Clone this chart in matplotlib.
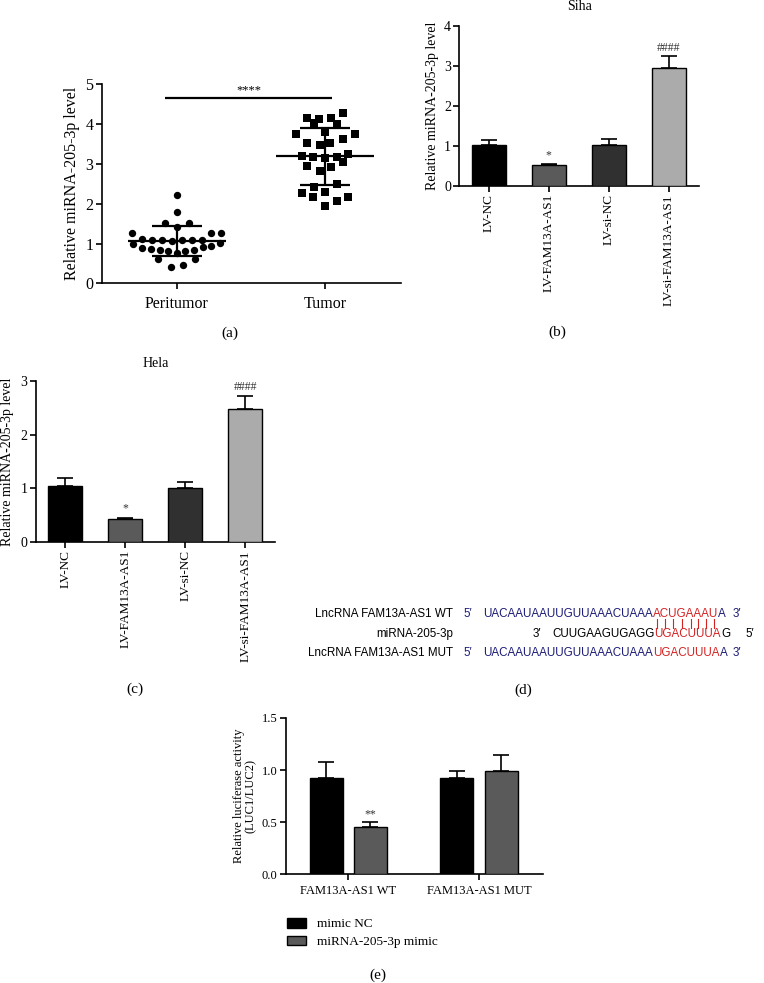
import matplotlib
matplotlib.use("Agg")
import matplotlib.pyplot as plt
from matplotlib.lines import Line2D
from matplotlib.patches import Patch
from matplotlib.font_manager import FontProperties
import numpy as np

plt.rcParams["font.family"] = ["Liberation Serif", "DejaVu Serif"]

W, H = 764, 983

# ── data ────────────────────────────────────────────────────────────────
scatter_groups = ["Peritumor", "Tumor"]
peri_vals = [2.22, 1.78, 1.51, 1.51, 1.41, 1.27, 1.27, 1.26, 1.12, 1.09,
             1.09, 1.07, 1.10, 1.09, 1.10, 0.99, 1.02, 0.88, 0.86, 0.84,
             0.80, 0.77, 0.82, 0.84, 0.90, 0.94, 0.61, 0.61, 0.42, 0.46]
peri_jitter = [0, 0, -0.079, 0.083, 0, -0.303, 0.299, 0.231, -0.236, -0.169,
               -0.101, -0.029, 0.034, 0.101, 0.169, -0.292, 0.292, -0.236, -0.175, -0.112,
               -0.056, 0, 0.056, 0.117, 0.175, 0.231, -0.124, 0.124, -0.038, 0.040]
tumor_vals = [4.27, 4.15, 4.12, 4.15, 4.02, 4.00, 3.81, 3.74, 3.74, 3.52,
              3.48, 3.53, 3.62, 3.21, 3.18, 3.14, 3.18, 3.25, 3.06, 2.95,
              2.91, 2.81, 2.43, 2.49, 2.26, 2.18, 2.30, 2.18, 2.08, 1.95]
tumor_jitter = [0.119, -0.119, -0.040, 0.038, -0.074, 0.079, 0, -0.198, 0.202, -0.119,
                -0.034, 0.034, 0.119, -0.157, -0.079, 0, 0.079, 0.157, 0.119, -0.119,
                0.038, -0.034, -0.074, 0.079, -0.157, -0.079, 0, 0.157, 0.079, 0]

lv_groups = ["LV-NC", "LV-FAM13A-AS1", "LV-si-NC", "LV-si-FAM13A-AS1"]
lv_marks = ["", "*", "", "####"]
siha_vals = [1.025, 0.51, 1.03, 2.94]
siha_err = [0.115, 0.03, 0.13, 0.29]
hela_vals = [1.04, 0.42, 1.01, 2.47]
hela_err = [0.15, 0.03, 0.10, 0.25]

luc_groups = ["FAM13A-AS1 WT", "FAM13A-AS1 MUT"]
luc_series = ["mimic NC", "miRNA-205-3p mimic"]
luc_nc = [0.92, 0.92]
luc_nc_err = [0.16, 0.067]
luc_mimic = [0.457, 0.99]
luc_mimic_err = [0.043, 0.157]
luc_marks = ["**", ""]

seq_labels = ["LncRNA FAM13A-AS1 WT", "miRNA-205-3p", "LncRNA FAM13A-AS1 MUT"]

BAR_COLOURS = ["#000000", "#5a5a5a", "#303030", "#ababab"]
NAVY = "#1c1c78"
RED = "#d42323"


def axes_px(left, top, right, bottom):
    return [left / W, 1 - bottom / H, (right - left) / W, (bottom - top) / H]


def style(ax, fs):
    for s in ("top", "right"):
        ax.spines[s].set_visible(False)
    for s in ("left", "bottom"):
        ax.spines[s].set_linewidth(1.2)
    ax.tick_params(direction="out", length=4, width=1.2, labelsize=fs, pad=2)


fig = plt.figure(figsize=(W / 100, H / 100), dpi=100)

# ── (a) scatter ─────────────────────────────────────────────────────────
ax = fig.add_axes(axes_px(101.7, 84.3, 400.7, 283.3))
for i, (vals, jit, mk, ms) in enumerate([(peri_vals, peri_jitter, "o", 5.3),
                                         (tumor_vals, tumor_jitter, "s", 6.0)]):
    v = np.array(vals)
    ax.plot(i + np.array(jit), v, mk, color="black", ms=ms, mew=0, zorder=3)
    m, sd = v.mean(), v.std(ddof=1)
    ax.hlines(m, i - 0.33, i + 0.33, color="black", lw=1.6, zorder=4)
    ax.hlines([m - sd, m + sd], i - 0.167, i + 0.167, color="black", lw=1.6, zorder=4)
    ax.vlines(i, m - sd, m + sd, color="black", lw=1.6, zorder=4)
ax.hlines(4.66, -0.08, 1.05, color="black", lw=1.6)
ax.text(0.485, 4.70, "****", ha="center", va="bottom", fontsize=9)
ax.set_xlim(-0.506, 1.51)
ax.set_ylim(0, 5)
ax.set_xticks([0, 1])
ax.set_xticklabels(scatter_groups)
ax.set_yticks(range(6))
style(ax, 11.5)
ax.tick_params(axis="x", pad=5)
ax.set_ylabel("Relative miRNA-205-3p level", fontsize=11.5)
ax.yaxis.set_label_coords(-0.074, 0.5)


# ── (b), (c) bar panels ────────────────────────────────────────────────
def lv_panel(rect, vals, errs, ymax, title, title_pad):
    ax = fig.add_axes(rect)
    x = np.arange(len(lv_groups))
    ax.bar(x, vals, 0.56, color=BAR_COLOURS, edgecolor="black", linewidth=1, zorder=3)
    ax.errorbar(x, vals, yerr=[np.zeros(len(vals)), errs], fmt="none", ecolor="black",
                elinewidth=1.2, capsize=6, capthick=1.2, zorder=2)
    for xi, v, e, t in zip(x, vals, errs, lv_marks):
        if t:
            ax.annotate(t, (xi, v + e), xytext=(0, 2), textcoords="offset points",
                        ha="center", va="bottom", fontsize=8.5, color="#333333")
    ax.set_xlim(-0.49, 3.5)
    ax.set_ylim(0, ymax)
    ax.set_yticks(range(ymax + 1))
    ax.set_xticks(x)
    ax.set_xticklabels(lv_groups, rotation=90, fontsize=9.5)
    style(ax, 10)
    ax.tick_params(axis="x", labelsize=9.5)
    ax.set_title(title, fontsize=10, pad=title_pad)
    ax.set_ylabel("Relative miRNA-205-3p level", fontsize=10)
    return ax


axb = lv_panel(axes_px(459.3, 25.7, 699, 185.7), siha_vals, siha_err, 4, "Siha", 11)
axb.yaxis.set_label_coords(-0.085, 0.5)
axc = lv_panel(axes_px(35.7, 381, 275.3, 541.7), hela_vals, hela_err, 3, "Hela", 10)
axc.yaxis.set_label_coords(-0.089, 0.5)

# ── (d) sequences ──────────────────────────────────────────────────────
SEQ_FS = 8.4
SEQ_FONT = ["Liberation Sans", "DejaVu Sans"]
SEQ_PROP = FontProperties(family=SEQ_FONT, size=SEQ_FS)
renderer = fig.canvas.get_renderer()


def width(s):
    return renderer.get_text_width_height_descent(s, SEQ_PROP, ismath=False)[0]


def put(x, y, s, colour, ha="left"):
    return fig.text(x / W, 1 - y / H, s, color=colour, fontproperties=SEQ_PROP,
                    ha=ha, va="baseline")


def seq_run(x0, y, parts):
    """Draw coloured segments of one sequence; return x-centres of every letter."""
    full = "".join(s for s, _ in parts)
    i = 0
    for s, colour in parts:
        xs = x0 + width(full[:i + 1]) - width(full[i]) if i else x0
        put(xs, y, s, colour)
        i += len(s)
    return [x0 + width(full[:k + 1]) - width(full[k]) / 2 for k in range(len(full))]


rows = [617.3, 637.3, 656.0]
for lab, y in zip(seq_labels, rows):
    put(452.7, y, lab, "black", ha="right")

wt_parts = [("UACAAUAAUUGUUAAACUAAA", NAVY), ("ACUGAAAU", RED), ("A", NAVY)]
put(463, rows[0], "5\u2032", NAVY)
c1 = seq_run(483.3, rows[0], wt_parts)
put(732.7, rows[0], "3\u2032", NAVY)

put(533, rows[1], "3\u2032", "black")
seq_run(552, rows[1], [("CUUGAAGUGAGG", "black"), ("UGACUUUA", RED), ("G", "black")])
put(745, rows[1], "5\u2032", "black")

put(463, rows[2], "5\u2032", NAVY)
seq_run(483.3, rows[2], [("UACAAUAAUUGUUAAACUAAA", NAVY), ("UGACUUUA", RED), ("A", NAVY)])
put(732.7, rows[2], "3\u2032", NAVY)

red_start = len(wt_parts[0][0])
for cx in c1[red_start:red_start + len(wt_parts[1][0])]:
    fig.add_artist(Line2D([cx / W, cx / W], [1 - 618.5 / H, 1 - 628.3 / H],
                          transform=fig.transFigure, color=RED, lw=0.8))

# ── (e) luciferase ─────────────────────────────────────────────────────
axe = fig.add_axes(axes_px(286, 718, 542.7, 874.3))
xg = np.arange(len(luc_groups))
off, bw = 0.169, 0.253
axe.bar(xg - off, luc_nc, bw, color="#000000", edgecolor="black", linewidth=1,
        zorder=3, label=luc_series[0])
axe.bar(xg + off, luc_mimic, bw, color="#5a5a5a", edgecolor="black", linewidth=1,
        zorder=3, label=luc_series[1])
axe.errorbar(xg - off, luc_nc, yerr=[np.zeros(2), luc_nc_err], fmt="none", ecolor="black",
             elinewidth=1.2, capsize=6, capthick=1.2, zorder=2)
axe.errorbar(xg + off, luc_mimic, yerr=[np.zeros(2), luc_mimic_err], fmt="none",
             ecolor="black", elinewidth=1.2, capsize=6, capthick=1.2, zorder=2)
for xi, v, e, t in zip(xg + off, luc_mimic, luc_mimic_err, luc_marks):
    if t:
        axe.annotate(t, (xi, v + e), xytext=(0, 1), textcoords="offset points",
                     ha="center", va="bottom", fontsize=8.5, color="#333333")
axe.set_xlim(-0.477, 1.487)
axe.set_ylim(0, 1.5)
axe.set_yticks([0, 0.5, 1.0, 1.5])
axe.set_yticklabels(["0.0", "0.5", "1.0", "1.5"])
axe.set_xticks(xg)
axe.set_xticklabels(luc_groups)
style(axe, 9)
axe.tick_params(axis="x", pad=4)
axe.set_ylabel("Relative luciferase activity\n(LUC1/LUC2)", fontsize=9, linespacing=1.0)
axe.yaxis.set_label_coords(-0.113, 0.5)
handles = [Patch(facecolor="#000000", edgecolor="black"),
           Patch(facecolor="#5a5a5a", edgecolor="black")]
axe.legend(handles, luc_series, loc="upper left", bbox_to_anchor=(287 / W, 1 - 918 / H),
           bbox_transform=fig.transFigure, frameon=False, fontsize=9.5,
           borderaxespad=0, borderpad=0, handlelength=1.45, handleheight=0.75,
           handletextpad=0.8, labelspacing=0.4)

# ── panel letters ──────────────────────────────────────────────────────
for lab, (x, y) in zip(["(a)", "(b)", "(c)", "(d)", "(e)"],
                       [(230, 333), (557, 332), (135, 689), (523, 690), (378, 975)]):
    fig.text(x / W, 1 - y / H, lab, ha="center", va="center", fontsize=11)

fig.savefig("out.png", dpi=100)
